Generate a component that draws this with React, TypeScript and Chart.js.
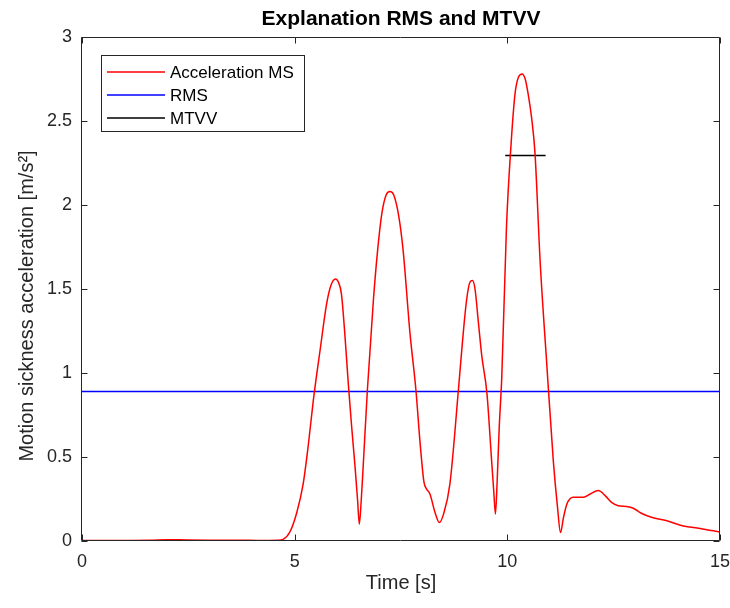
import React, { useEffect, useRef } from "react";
import { Chart, registerables } from "chart.js";

Chart.register(...registerables);

// ---- data ----
const timeS: number[] = [
  0, 1.0, 1.6, 2.0, 2.5, 3.0, 3.9, 4.4, 4.6, 4.73, 4.89, 5.05, 5.2, 5.32, 5.44, 5.6, 5.75, 5.85, 5.96,
  6.03, 6.1, 6.18, 6.26, 6.34, 6.42, 6.48, 6.52, 6.56, 6.61, 6.71, 6.85, 6.95, 7.05, 7.15, 7.24,
  7.33, 7.45, 7.55, 7.71, 7.85, 7.95, 8.04, 8.1, 8.18, 8.3, 8.4, 8.5, 8.65, 8.85, 8.95, 9.04, 9.12,
  9.18, 9.24, 9.32, 9.4, 9.52, 9.63, 9.68, 9.72, 9.76, 9.81, 9.87, 9.98, 10.09, 10.18, 10.26, 10.35,
  10.42, 10.49, 10.57, 10.65, 10.77, 10.92, 11.08, 11.18, 11.25, 11.32, 11.4, 11.47, 11.55, 11.79,
  11.95, 12.14, 12.3, 12.45, 12.61, 12.8, 12.96, 13.15, 13.39, 13.75, 14.14, 14.53, 15.0,
];
const accelMS: number[] = [
  0.003, 0.003, 0.004, 0.008, 0.006, 0.005, 0.004, 0.003, 0.004, 0.01, 0.055, 0.17, 0.34, 0.57, 0.84,
  1.14, 1.41, 1.52, 1.56, 1.54, 1.47, 1.23, 0.94, 0.68, 0.44, 0.24, 0.1, 0.22, 0.44, 0.9, 1.43, 1.73,
  1.95, 2.06, 2.08, 2.06, 1.93, 1.73, 1.24, 0.9, 0.58, 0.35, 0.31, 0.28, 0.17, 0.11, 0.16, 0.34, 0.9,
  1.2, 1.43, 1.54, 1.55, 1.5, 1.3, 1.1, 0.88, 0.48, 0.3, 0.16, 0.35, 0.68, 0.98, 1.87, 2.37, 2.66,
  2.76, 2.78, 2.75, 2.66, 2.52, 2.31, 1.67, 1.08, 0.48, 0.2, 0.05, 0.14, 0.22, 0.25, 0.26, 0.26, 0.28,
  0.3, 0.27, 0.23, 0.21, 0.205, 0.195, 0.165, 0.141, 0.121, 0.089, 0.075, 0.053,
];
const rmsValue = 0.89;
const rmsSpan: number[] = [0, 15];
const mtvvValue = 2.295;
const mtvvSpan: number[] = [9.95, 10.9];

const xTickValues: number[] = [0, 5, 10, 15];
const yTickValues: number[] = [0, 0.5, 1, 1.5, 2, 2.5, 3];

const seriesNames: string[] = ["Acceleration MS", "RMS", "MTVV"];
const seriesColors: string[] = ["#ff0000", "#0000ff", "#000000"];

const titleText = "Explanation RMS and MTVV";
const xTitle = "Time [s]";
const yTitle = "Motion sickness acceleration [m/s²]";

const FONT = "'Liberation Sans', Arial, Helvetica, sans-serif";
const AXIS_COLOR = "#262626";

const framePlugin = {
  id: "matlabFrame",
  afterDatasetsDraw(chart: any) {
    const { ctx, chartArea: a, scales } = chart;
    const tl = 6;
    ctx.save();
    ctx.strokeStyle = AXIS_COLOR;
    ctx.lineWidth = 1;
    const L = Math.round(a.left) - 0.5;
    const R = Math.round(a.right) - 0.5;
    const T = Math.round(a.top) + 0.5;
    const B = Math.round(a.bottom) - 0.5;
    ctx.beginPath();
    ctx.rect(L, T, R - L, B - T);
    ctx.stroke();
    ctx.beginPath();
    for (const v of xTickValues) {
      const px = Math.round(scales.x.getPixelForValue(v)) + 0.5;
      ctx.moveTo(px, B);
      ctx.lineTo(px, B - tl);
      ctx.moveTo(px, T);
      ctx.lineTo(px, T + tl);
    }
    for (const v of yTickValues) {
      const py = Math.round(scales.y.getPixelForValue(v)) + 0.5;
      ctx.moveTo(L, py);
      ctx.lineTo(L + tl, py);
      ctx.moveTo(R, py);
      ctx.lineTo(R - tl, py);
    }
    ctx.stroke();
    ctx.restore();
  },
};

const textPlugin = {
  id: "matlabTexts",
  afterDraw(chart: any) {
    const { ctx, chartArea: a } = chart;
    const cx = (a.left + a.right) / 2;
    ctx.save();
    // title
    ctx.fillStyle = "#000000";
    ctx.font = `bold 21px ${FONT}`;
    ctx.textAlign = "center";
    ctx.textBaseline = "alphabetic";
    ctx.fillText(titleText, cx, 25);
    // x title
    ctx.fillStyle = AXIS_COLOR;
    ctx.font = `20px ${FONT}`;
    ctx.textBaseline = "middle";
    ctx.fillText(xTitle, cx, 583);
    // y title
    ctx.save();
    ctx.translate(27, 306);
    ctx.rotate(-Math.PI / 2);
    ctx.fillText(yTitle, 0, 0);
    ctx.restore();

    // legend
    const bx = a.left + 19;
    const by = a.top + 18;
    const bw = 203;
    const bh = 76;
    ctx.fillStyle = "#ffffff";
    ctx.fillRect(bx, by, bw, bh);
    ctx.strokeStyle = AXIS_COLOR;
    ctx.lineWidth = 1;
    ctx.strokeRect(Math.round(bx) + 0.5, Math.round(by) + 0.5, bw, bh);
    ctx.font = `17px ${FONT}`;
    ctx.textAlign = "left";
    ctx.textBaseline = "middle";
    seriesNames.forEach((name, i) => {
      const y = by + 17 + i * 23;
      ctx.strokeStyle = seriesColors[i];
      ctx.lineWidth = 1.5;
      ctx.beginPath();
      ctx.moveTo(bx + 6, y);
      ctx.lineTo(bx + 64, y);
      ctx.stroke();
      ctx.fillStyle = "#000000";
      ctx.fillText(name, bx + 69, y + 1);
    });
    ctx.restore();
  },
};

export default function App() {
  const ref = useRef<HTMLCanvasElement | null>(null);

  useEffect(() => {
    document.body.style.margin = "0";
    const canvas = ref.current;
    if (!canvas) return;

    const accelData = timeS.map((t, i) => ({ x: t, y: accelMS[i] }));
    const rmsData = rmsSpan.map((t) => ({ x: t, y: rmsValue }));
    const mtvvData = mtvvSpan.map((t) => ({ x: t, y: mtvvValue }));

    const chart = new Chart(canvas, {
      type: "line",
      data: {
        datasets: [
          {
            label: seriesNames[0],
            data: accelData,
            borderColor: seriesColors[0],
            borderWidth: 1.5,
            pointRadius: 0,
            cubicInterpolationMode: "monotone",
            fill: false,
          },
          {
            label: seriesNames[1],
            data: rmsData,
            borderColor: seriesColors[1],
            borderWidth: 1.5,
            pointRadius: 0,
            fill: false,
          },
          {
            label: seriesNames[2],
            data: mtvvData,
            borderColor: seriesColors[2],
            borderWidth: 1.5,
            pointRadius: 0,
            fill: false,
          },
        ],
      },
      options: {
        animation: false,
        responsive: false,
        devicePixelRatio: 1,
        events: [],
        layout: { padding: { left: 0, right: 10, top: 37, bottom: 0 } },
        plugins: {
          legend: { display: false },
          title: { display: false },
          tooltip: { enabled: false },
        },
        scales: {
          x: {
            type: "linear",
            min: 0,
            max: 15,
            afterFit: (s: any) => {
              s.height = 67;
              s.paddingLeft = 0;
              s.paddingRight = 0;
            },
            afterBuildTicks: (s: any) => {
              s.ticks = xTickValues.map((v) => ({ value: v }));
            },
            grid: { display: false, drawTicks: false },
            border: { display: false },
            ticks: {
              padding: 10,
              color: AXIS_COLOR,
              maxRotation: 0,
              autoSkip: false,
              font: { family: FONT, size: 18 },
              callback: (v: any) => String(v),
            },
          },
          y: {
            type: "linear",
            min: 0,
            max: 3,
            afterFit: (s: any) => {
              s.width = 82;
              s.paddingTop = 0;
              s.paddingBottom = 0;
            },
            afterBuildTicks: (s: any) => {
              s.ticks = yTickValues.map((v) => ({ value: v }));
            },
            grid: { display: false, drawTicks: false },
            border: { display: false },
            ticks: {
              padding: 10,
              color: AXIS_COLOR,
              autoSkip: false,
              font: { family: FONT, size: 18 },
              callback: (v: any) => String(v),
            },
          },
        },
      } as any,
      plugins: [framePlugin, textPlugin],
    });

    return () => {
      chart.destroy();
    };
  }, []);

  return <canvas ref={ref} width={730} height={608} style={{ display: "block" }} />;
}
